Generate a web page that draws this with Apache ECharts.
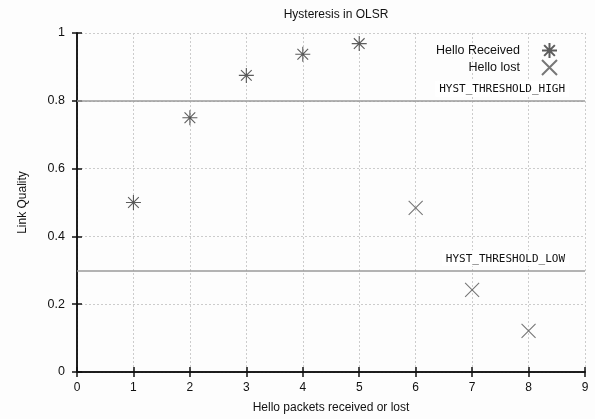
<!DOCTYPE html>
<html><head><meta charset="utf-8">
<script src="https://cdn.jsdelivr.net/npm/echarts@6/dist/echarts.min.js"></script>
<style>html,body{margin:0;padding:0;background:#fdfdfd}#c{width:595px;height:419px}</style>
</head><body><div id="c"></div>
<script>
const receivedX = [1, 2, 3, 4, 5];
const receivedY = [0.5, 0.75, 0.875, 0.9375, 0.96875];
const lostX = [6, 7, 8];
const lostY = [0.484, 0.242, 0.121];
const thresholds = [
  {name: 'HYST_THRESHOLD_HIGH', value: 0.8},
  {name: 'HYST_THRESHOLD_LOW', value: 0.3}
];

const star = 'path://M0,7L14,7M7,0L7,14M2,2L12,12M12,2L2,12';
const cross = 'path://M0,0L14,14M14,0L0,14';
const font = 'Liberation Sans, Arial, sans-serif';

const chart = echarts.init(document.getElementById('c'));
const axisCommon = {
  axisLine: {show: true, lineStyle: {color: '#111', width: 1.5}},
  axisTick: {show: true, inside: true, length: 5, lineStyle: {color: '#111', width: 1.5}},
};
chart.setOption({
  backgroundColor: '#fdfdfd',
  animation: false,
  title: {text: 'Hysteresis in OLSR', left: 331, textAlign: 'center', top: 4,
    textStyle: {fontFamily: font, fontSize: 12, fontWeight: 'normal', color: '#111'}},
  grid: {left: 77, right: 10, top: 33, bottom: 46},
  legend: {
    orient: 'vertical', right: 32, top: 37, align: 'right', itemGap: 0,
    itemWidth: 15, itemHeight: 15,
    textStyle: {fontFamily: font, fontSize: 12.5, color: '#111', padding: [0, 17, 0, 0]},
    data: ['Hello Received', 'Hello lost']
  },
  xAxis: [{
    type: 'value', min: 0, max: 9, interval: 1, position: 'bottom',
    ...axisCommon,
    axisLabel: {fontFamily: font, fontSize: 12, color: '#111', margin: 10},
    splitLine: {show: true, lineStyle: {type: [2, 2], color: '#ccc'}},
    name: 'Hello packets received or lost', nameLocation: 'middle', nameGap: 30,
    nameTextStyle: {fontFamily: font, fontSize: 12, color: '#111'}
  }, {
    type: 'value', min: 0, max: 9, interval: 1, position: 'top',
    ...axisCommon, axisLabel: {show: false}, splitLine: {show: false}
  }],
  yAxis: [{
    type: 'value', min: 0, max: 1, interval: 0.2, position: 'left',
    ...axisCommon,
    axisLabel: {fontFamily: font, fontSize: 12.5, color: '#111', margin: 12},
    splitLine: {show: true, lineStyle: {type: [2, 2], color: '#ccc'}},
    name: 'Link Quality', nameLocation: 'middle', nameGap: 48, nameRotate: 90,
    nameTextStyle: {fontFamily: font, fontSize: 12, color: '#111'}
  }, {
    type: 'value', min: 0, max: 1, interval: 0.2, position: 'right',
    ...axisCommon, axisLabel: {show: false}, splitLine: {show: false}
  }],
  series: [{
    name: 'Hello Received', type: 'scatter', symbol: star, symbolSize: 15, symbolKeepAspect: true,
    itemStyle: {color: 'transparent', borderColor: '#333', borderWidth: 1.1},
    data: receivedX.map((x, i) => [x, receivedY[i]]),
    markLine: {
      silent: true, symbol: 'none',
      lineStyle: {color: '#9a9a9a', type: 'solid', width: 1.5},
      label: {
        position: 'insideEndTop', distance: [16, 4],
        formatter: p => p.name,
        fontFamily: 'DejaVu Sans Mono, monospace', fontSize: 11, color: '#111',
        backgroundColor: '#fff', padding: [3, 4, 2, 4]
      },
      data: thresholds.map(t => ({name: t.name, yAxis: t.value}))
    }
  }, {
    name: 'Hello lost', type: 'scatter', symbol: cross, symbolSize: 14, symbolKeepAspect: true,
    itemStyle: {color: 'transparent', borderColor: '#555', borderWidth: 1.1},
    data: lostX.map((x, i) => [x, lostY[i]])
  }]
});
</script></body></html>
